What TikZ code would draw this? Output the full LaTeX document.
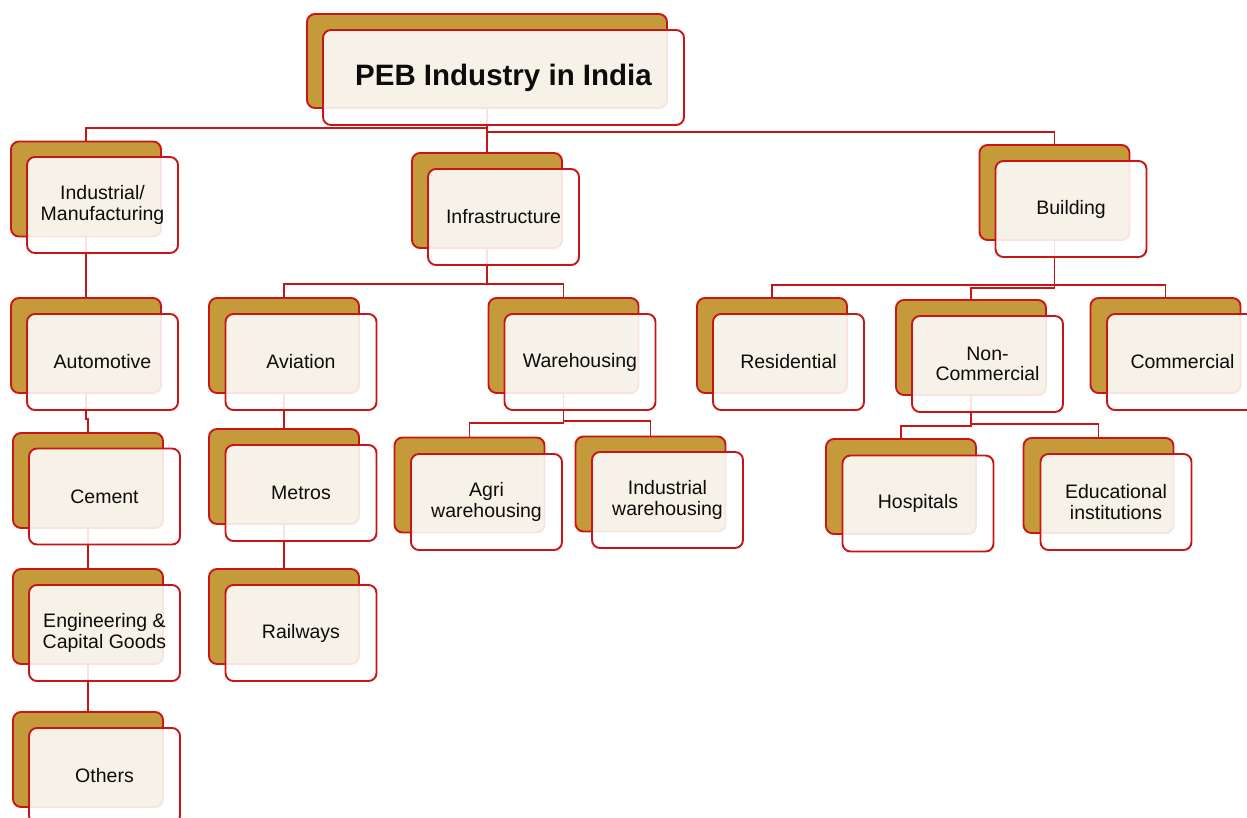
\documentclass[tikz,border=0pt]{standalone}
\usepackage{fontspec}
\setmainfont{Liberation Sans}
\definecolor{edge}{RGB}{200,22,22}
\definecolor{gold}{RGB}{197,154,58}
\definecolor{ink}{RGB}{12,12,12}
\begin{document}
\begin{tikzpicture}[x=1pt,y=-1pt,
  back/.style={draw=edge, line width=1.9pt, fill=gold, rounded corners=8pt,
    minimum width=150pt, minimum height=95pt, inner sep=0pt},
  front/.style={draw=edge, line width=1.9pt, fill=white, fill opacity=0.88,
    text opacity=1, rounded corners=8pt, minimum width=151pt, minimum height=96pt,
    inner sep=0pt, align=center, text=ink,
    font=\fontsize{19.5}{20.5}\selectfont},
  link/.style={draw=edge, line width=1.9pt}]
\useasboundingbox (0,0) rectangle (1247,818);
\clip (0,0) rectangle (1247,818);
\fill[white] (0,0) rectangle (1247,818);

% back boxes
\node[back, minimum width=360pt, minimum height=94pt] (topB) at (487,61) {};
\node[back] (indB)  at (86,189) {};
\node[back] (infB)  at (487,200.5) {};
\node[back] (bldB)  at (1054.5,192.5) {};
\node[back] (autoB) at (86,345.5) {};
\node[back] (cemB)  at (88,480.5) {};
\node[back] (engB)  at (88,616.5) {};
\node[back] (othB)  at (88,759.5) {};
\node[back] (aviB)  at (284,345.5) {};
\node[back] (metB)  at (284,476.5) {};
\node[back] (railB) at (284,616.5) {};
\node[back] (wareB) at (563.5,345.5) {};
\node[back] (agriB) at (469.5,485) {};
\node[back] (indwB) at (650.5,484) {};
\node[back] (resB)  at (772,345.5) {};
\node[back] (noncB) at (971,347.5) {};
\node[back] (comB)  at (1165.5,345.5) {};
\node[back] (hospB) at (901,486.5) {};
\node[back] (eduB)  at (1098.5,485.5) {};

% connectors
\draw[link] (topB.south) -- ++(0,19) -| (indB.north);
\draw[link] (topB.south) -- (infB.north);
\draw[link] (topB.south) -- ++(0,23) -| (bldB.north);
\draw[link] (indB.south) -- (autoB.north);
\draw[link] (autoB.south) -- ++(0,25) -| (cemB.north);
\draw[link] (cemB.south) -- (engB.north);
\draw[link] (engB.south) -- (othB.north);
\draw[link] (infB.south) -- ++(0,35) -| (aviB.north);
\draw[link] (infB.south) -- ++(0,35) -| (wareB.north);
\draw[link] (aviB.south) -- (metB.north);
\draw[link] (metB.south) -- (railB.north);
\draw[link] (wareB.south) -- ++(0,29) -| (agriB.north);
\draw[link] (wareB.south) -- ++(0,27) -| (indwB.north);
\draw[link] (bldB.south) -- ++(0,44) -| (resB.north);
\draw[link] (bldB.south) -- ++(0,47) -| (noncB.north);
\draw[link] (bldB.south) -- ++(0,44) -| (comB.north);
\draw[link] (noncB.south) -- ++(0,30) -| (hospB.north);
\draw[link] (noncB.south) -- ++(0,28) -| (eduB.north);

% front boxes
\node[front, minimum width=361pt, minimum height=95pt,
  font=\fontsize{29.5}{31}\selectfont\bfseries] (topF) at (503.5,77.5) {PEB Industry in India};
\node[front] (indF)  at (102.5,205) {Industrial/\\Manufacturing};
\node[front] (infF)  at (503.5,217) {Infrastructure};
\node[front] (bldF)  at (1071,209) {Building};
\node[front] (autoF) at (102.5,362) {Automotive};
\node[front] (cemF)  at (104.5,496.5) {Cement};
\node[front] (engF)  at (104.5,633) {Engineering \&\\Capital Goods};
\node[front] (othF)  at (104.5,776) {Others};
\node[front] (aviF)  at (301,362) {Aviation};
\node[front] (metF)  at (301,493) {Metros};
\node[front] (railF) at (301,633) {Railways};
\node[front] (wareF) at (580,362) {Warehousing};
\node[front] (agriF) at (486.5,502) {Agri\\warehousing};
\node[front] (indwF) at (667.5,500) {Industrial\\warehousing};
\node[front] (resF)  at (788.5,362) {Residential};
\node[front] (noncF) at (987.5,364) {Non-\\Commercial};
\node[front] (comF)  at (1182.5,362) {Commercial};
\node[front] (hospF) at (918,503.5) {Hospitals};
\node[front] (eduF)  at (1116,502) {Educational\\institutions};
\end{tikzpicture}
\end{document}
